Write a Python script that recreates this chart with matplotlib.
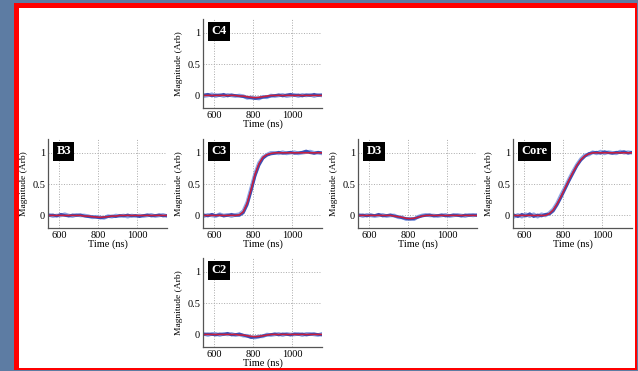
import matplotlib.pyplot as plt
from matplotlib.patches import Rectangle

# sample times (ns)
TIME = [550, 570, 590, 610, 630, 650, 670, 690, 710, 730, 750, 770, 790, 810, 830, 850,
        870, 890, 910, 930, 950, 970, 990, 1010, 1030, 1050, 1070, 1090, 1110, 1130, 1150]

# C4 panel
c4_blue_a = [0.01, 0.02, -0.01, 0.01, 0.00, 0.02, -0.01, 0.01, 0.00, -0.01, -0.02, -0.03, -0.04, -0.05, -0.04, -0.03,
             -0.02, -0.01, 0.00, 0.01, -0.01, 0.01, 0.02, 0.00, 0.01, -0.01, 0.01, 0.00, 0.02, 0.00, 0.01]
c4_blue_b = [-0.01, 0.00, 0.02, -0.01, 0.01, -0.01, 0.01, 0.00, -0.01, 0.00, -0.01, -0.04, -0.03, -0.04, -0.05, -0.02,
             -0.03, 0.00, -0.01, 0.00, 0.01, -0.01, 0.00, 0.01, -0.01, 0.01, 0.00, 0.01, -0.01, 0.01, 0.00]
c4_red = [0.00, 0.00, 0.00, 0.00, 0.00, 0.00, 0.00, 0.00, 0.00, -0.01, -0.01, -0.02, -0.03, -0.035, -0.03, -0.02,
          -0.01, 0.00, 0.00, 0.00, 0.00, 0.00, 0.00, 0.00, 0.00, 0.00, 0.00, 0.00, 0.00, 0.00, 0.00]

# B3 panel
b3_blue_a = [0.00, 0.01, -0.01, 0.02, 0.00, -0.01, 0.01, 0.00, 0.01, -0.01, -0.02, -0.02, -0.03, -0.04, -0.03, -0.02,
             -0.01, -0.02, 0.00, -0.01, 0.01, -0.01, 0.00, -0.02, 0.00, 0.01, -0.01, 0.00, 0.01, -0.01, 0.00]
b3_blue_b = [0.01, -0.01, 0.00, 0.00, 0.02, 0.00, -0.01, 0.01, 0.00, 0.00, -0.01, -0.03, -0.02, -0.03, -0.04, -0.01,
             -0.02, 0.00, -0.01, 0.00, -0.02, 0.00, -0.01, 0.00, -0.01, 0.00, 0.01, -0.01, 0.00, 0.01, -0.01]
b3_red = [0.00, 0.00, 0.00, 0.00, 0.00, 0.00, 0.00, 0.00, 0.00, -0.01, -0.01, -0.02, -0.025, -0.03, -0.025, -0.02,
          -0.01, -0.01, 0.00, 0.00, 0.00, 0.00, 0.00, 0.00, 0.00, 0.00, 0.00, 0.00, 0.00, 0.00, 0.00]

# C3 panel
c3_blue_a = [0.01, -0.01, 0.02, 0.00, 0.01, -0.01, 0.00, 0.02, 0.00, 0.00, 0.04, 0.17, 0.39, 0.63, 0.80, 0.91,
             0.96, 0.98, 0.99, 1.01, 0.99, 1.00, 1.01, 0.99, 1.00, 1.01, 1.03, 1.00, 0.99, 1.01, 1.00]
c3_blue_b = [-0.01, 0.01, 0.00, -0.01, 0.02, 0.00, 0.01, -0.01, 0.01, 0.02, 0.07, 0.21, 0.44, 0.67, 0.84, 0.93,
             0.97, 1.00, 1.00, 0.99, 1.01, 0.99, 1.00, 1.01, 0.99, 1.00, 1.01, 1.02, 1.00, 1.00, 0.99]
c3_red = [0.00, 0.00, 0.00, 0.00, 0.00, 0.00, 0.00, 0.00, 0.00, 0.01, 0.06, 0.20, 0.42, 0.66, 0.83, 0.93,
          0.97, 0.99, 1.00, 1.00, 1.00, 1.00, 1.00, 1.00, 1.00, 1.00, 1.00, 1.00, 1.00, 1.00, 1.00]

# D3 panel
d3_blue_a = [0.00, 0.01, -0.01, 0.01, 0.00, 0.02, -0.01, 0.00, 0.01, -0.01, -0.02, -0.04, -0.05, -0.06, -0.05, -0.03,
             -0.01, 0.00, 0.01, -0.01, 0.00, 0.01, -0.01, 0.00, 0.01, 0.00, -0.01, 0.01, 0.00, 0.01, 0.00]
d3_blue_b = [0.01, -0.01, 0.01, 0.00, -0.01, 0.00, 0.01, -0.01, 0.00, 0.00, -0.03, -0.03, -0.06, -0.05, -0.06, -0.02,
             0.00, 0.01, 0.00, 0.00, -0.01, 0.00, 0.01, -0.01, 0.00, 0.01, 0.00, -0.01, 0.01, 0.00, 0.01]
d3_red = [0.00, 0.00, 0.00, 0.00, 0.00, 0.00, 0.00, 0.00, 0.00, -0.01, -0.02, -0.03, -0.045, -0.05, -0.045, -0.03,
          -0.01, 0.00, 0.00, 0.00, 0.00, 0.00, 0.00, 0.00, 0.00, 0.00, 0.00, 0.00, 0.00, 0.00, 0.00]

# Core panel
core_blue_a = [0.01, -0.02, 0.02, -0.01, 0.03, -0.02, 0.01, -0.01, 0.02, 0.02, 0.07, 0.17, 0.29, 0.42, 0.55, 0.67,
               0.79, 0.88, 0.94, 0.99, 1.00, 1.01, 0.99, 1.02, 1.00, 0.99, 1.01, 1.00, 1.02, 0.99, 1.01]
core_blue_b = [-0.02, 0.01, -0.02, 0.02, -0.01, 0.02, -0.02, 0.02, 0.00, 0.04, 0.10, 0.20, 0.33, 0.45, 0.58, 0.70,
               0.81, 0.90, 0.96, 0.97, 1.01, 0.99, 1.02, 0.99, 1.01, 1.00, 0.99, 1.02, 1.00, 1.01, 1.00]
core_red = [0.00, 0.00, 0.00, 0.00, 0.00, 0.00, 0.00, 0.00, 0.00, 0.03, 0.09, 0.19, 0.31, 0.44, 0.57, 0.69,
            0.80, 0.89, 0.95, 0.98, 1.00, 1.00, 1.00, 1.00, 1.00, 1.00, 1.00, 1.00, 1.00, 1.00, 1.00]

# C2 panel
c2_blue_a = [0.00, 0.01, 0.00, -0.01, 0.01, 0.00, 0.02, -0.01, 0.00, 0.01, -0.01, -0.03, -0.05, -0.04, -0.04, -0.02,
             -0.01, 0.00, 0.01, -0.01, 0.01, 0.00, -0.01, 0.01, 0.00, 0.01, -0.01, 0.00, 0.01, 0.00, -0.01]
c2_blue_b = [0.01, -0.01, 0.01, 0.01, -0.01, 0.01, 0.00, 0.01, -0.01, 0.00, -0.02, -0.02, -0.04, -0.05, -0.03, -0.03,
             0.00, -0.01, 0.00, 0.01, -0.01, 0.01, 0.00, 0.00, 0.01, -0.01, 0.01, 0.01, 0.00, -0.01, 0.01]
c2_red = [0.00, 0.00, 0.00, 0.00, 0.00, 0.00, 0.00, 0.00, 0.00, -0.01, -0.01, -0.02, -0.03, -0.035, -0.03, -0.02,
          -0.01, 0.00, 0.00, 0.00, 0.00, 0.00, 0.00, 0.00, 0.00, 0.00, 0.00, 0.00, 0.00, 0.00, 0.00]

PANELS = ['C4', 'B3', 'C3', 'D3', 'Core', 'C2']
BLUE_A = [c4_blue_a, b3_blue_a, c3_blue_a, d3_blue_a, core_blue_a, c2_blue_a]
BLUE_B = [c4_blue_b, b3_blue_b, c3_blue_b, d3_blue_b, core_blue_b, c2_blue_b]
RED = [c4_red, b3_red, c3_red, d3_red, core_red, c2_red]

W, H = 638, 371
# panel corners in pixels (left, top)
corners = {'C4': (203, 19), 'B3': (48, 139), 'C3': (203, 139),
           'D3': (358, 139), 'Core': (513, 139), 'C2': (203, 258)}
pw, ph = 119, 89

plt.rcParams['font.family'] = ['Liberation Serif', 'DejaVu Serif']

fig = plt.figure(figsize=(W / 100, H / 100), dpi=100)
fig.patch.set_facecolor('#5d7ca3')

# red framed white slide area
fig.patches.append(Rectangle((14 / W, 1 / H), (637 - 14) / W, 1 - 4 / H, transform=fig.transFigure,
                             facecolor='#ff0000', edgecolor='none', zorder=-10))
fig.patches.append(Rectangle((19 / W, 3 / H), (635 - 19) / W, (368 - 8) / H, transform=fig.transFigure,
                             facecolor='white', edgecolor='none', zorder=-9))

for name, ba, bb, rd in zip(PANELS, BLUE_A, BLUE_B, RED):
    x0, y0 = corners[name]
    ax = fig.add_axes([x0 / W, 1 - (y0 + ph) / H, pw / W, ph / H])
    ax.set_facecolor('none')
    ax.plot(TIME, bb, color='#7a96e0', lw=2.6, alpha=0.85)
    ax.plot(TIME, ba, color='#2f44b0', lw=1.9, alpha=0.9)
    ax.plot(TIME, rd, color='#cc1f3c', lw=1.1)
    ax.set_xlim(545, 1150)
    ax.set_ylim(-0.2, 1.22)
    ax.set_xticks([600, 800, 1000])
    ax.set_yticks([0, 0.5, 1])
    ax.set_yticklabels(['0', '0.5', '1'])
    ax.grid(True, linestyle=':', color='#aaaaaa', lw=0.7)
    for s in ['top', 'right']:
        ax.spines[s].set_visible(False)
    for s in ['left', 'bottom']:
        ax.spines[s].set_color('#555555')
        ax.spines[s].set_linewidth(0.9)
    ax.tick_params(length=0, labelsize=7.5, pad=2)
    ax.set_xlabel('Time (ns)', fontsize=7.5, labelpad=0)
    ax.set_ylabel('Magnitude (Arb)', fontsize=6.8, labelpad=3)
    ax.text(0.07, 0.93, name, transform=ax.transAxes, ha='left', va='top', color='white',
            fontsize=9, fontweight='bold',
            bbox=dict(boxstyle='square,pad=0.28', facecolor='black', edgecolor='none'))

fig.savefig('out.png', dpi=100, facecolor=fig.get_facecolor())
